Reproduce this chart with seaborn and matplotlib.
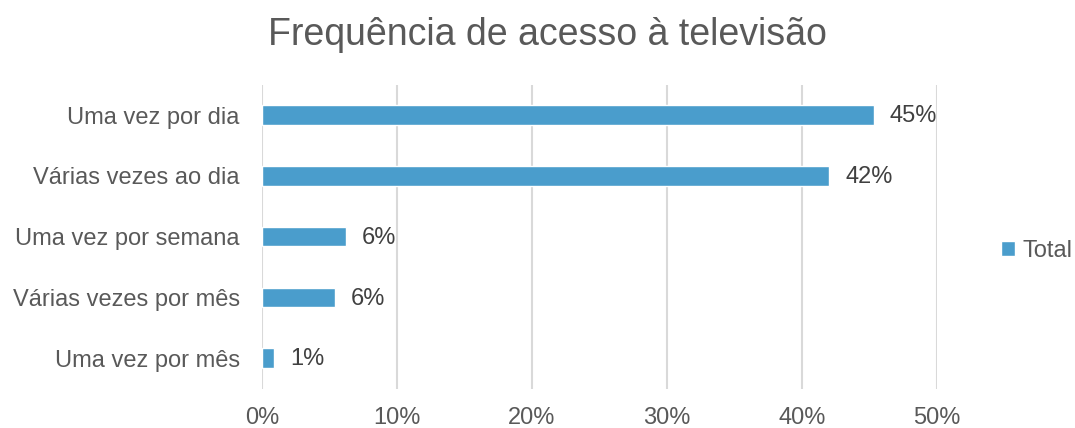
import matplotlib
matplotlib.use("Agg")
import matplotlib.pyplot as plt
import seaborn as sns
import pandas as pd
from matplotlib.patches import Patch
from matplotlib.ticker import PercentFormatter

categories = [
    "Uma vez por dia",
    "Várias vezes ao dia",
    "Uma vez por semana",
    "Várias vezes por mês",
    "Uma vez por mês",
]
values = [45.3, 42.0, 6.2, 5.4, 0.9]
labels = ["45%", "42%", "6%", "6%", "1%"]
x_ticks = [0, 10, 20, 30, 40, 50]

bar_color = "#4a9dcc"
text_color = "#595959"

sns.set_style("white")
plt.rcParams["font.family"] = ["Liberation Sans", "DejaVu Sans"]

df = pd.DataFrame({"categoria": categories, "valor": values})

fig = plt.figure(figsize=(10.75, 4.28), dpi=100)
ax = fig.add_axes([0.2437, 0.092, 0.8716 - 0.2437, 0.7103])

sns.barplot(data=df, y="categoria", x="valor", color=bar_color, width=0.32,
            saturation=1, ax=ax, orient="h")

for i, (v, lab) in enumerate(zip(values, labels)):
    ax.text(v + 1.2, i + 0.02, lab, va="center", ha="left", fontsize=17,
            color="#404040")

ax.set_xlim(0, 50)
ax.set_xticks(x_ticks)
ax.xaxis.set_major_formatter(PercentFormatter(decimals=0))
ax.grid(axis="x", color="#d9d9d9", linewidth=1.5)
ax.set_axisbelow(True)
for s in ax.spines.values():
    s.set_visible(False)
ax.set_xlabel("")
ax.set_ylabel("")
ax.tick_params(axis="both", length=0, labelsize=17, labelcolor=text_color)
ax.tick_params(axis="x", pad=13)
ax.tick_params(axis="y", pad=16)

fig.suptitle("Frequência de acesso à televisão", fontsize=27, color=text_color,
             x=0.509, y=0.96)

handles = [Patch(facecolor=bar_color, label="Total")]
fig.legend(handles=handles, loc="center left", bbox_to_anchor=(0.931, 0.413),
           frameon=False, fontsize=17, handlelength=0.6, handleheight=0.6,
           handletextpad=0.3, borderpad=0, borderaxespad=0,
           labelcolor=text_color)

fig.savefig("out.png", dpi=100)
